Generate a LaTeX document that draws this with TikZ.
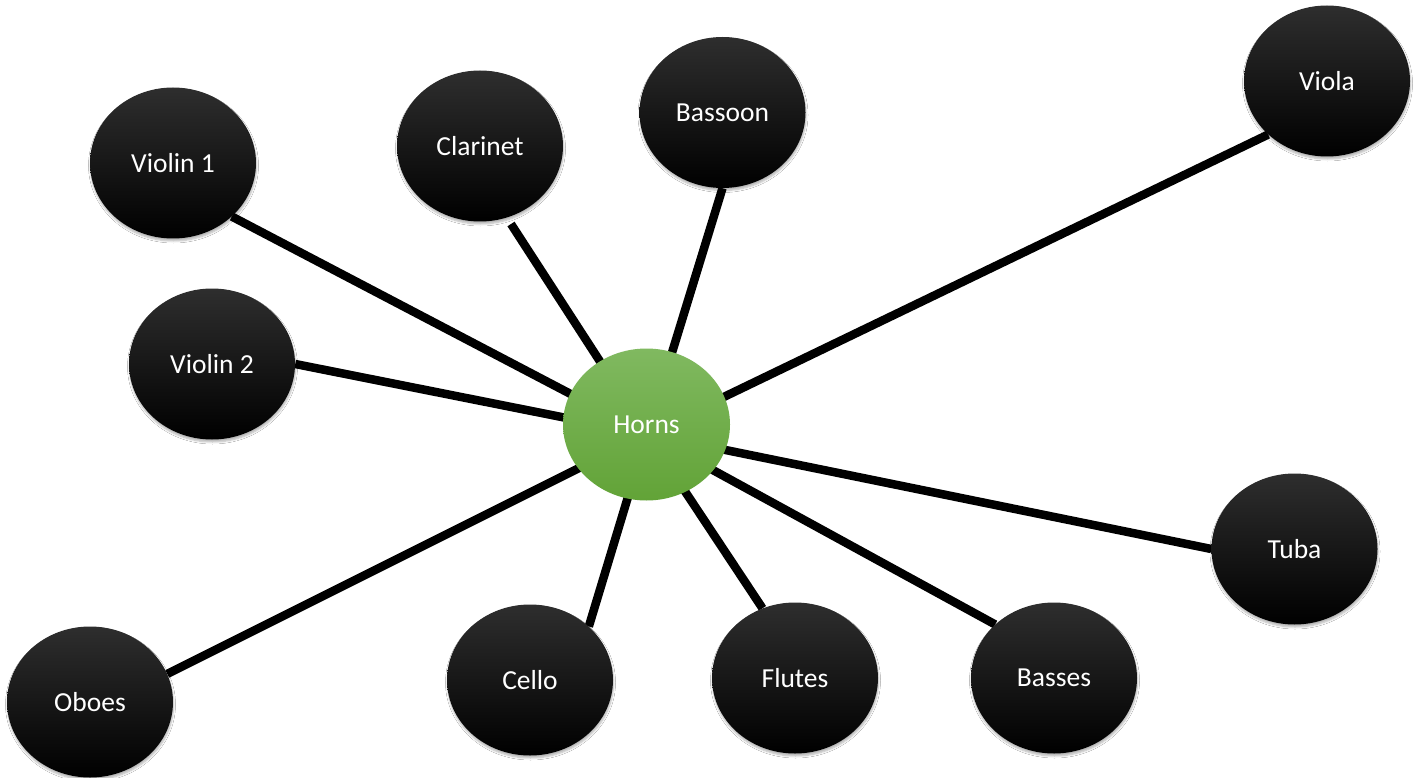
\documentclass[tikz,border=0pt]{standalone}
\usepackage{fontspec}
\setmainfont{Carlito}
\usetikzlibrary{shapes.geometric,backgrounds,shadows.blur}
\definecolor{hornTop}{RGB}{128,185,96}
\definecolor{hornBot}{RGB}{98,163,55}
\definecolor{nodeTop}{RGB}{46,46,46}
\tikzset{
  inst/.style={ellipse, minimum width=166pt, minimum height=151pt, inner sep=0pt,
    top color=nodeTop, middle color=black, bottom color=black, draw=none,
    text=white, font=\fontsize{27.5}{31}\selectfont,
    blur shadow={shadow xshift=0.5pt, shadow yshift=-2.5pt, shadow blur radius=2pt, shadow opacity=30, shadow blur steps=5}},
  hornbox/.style={ellipse, minimum width=167pt, minimum height=152pt, inner sep=0pt,
    top color=hornTop, bottom color=hornBot, draw=none,
    text=white, font=\fontsize{27.5}{31}\selectfont},
  link/.style={line width=8.5pt, draw=black}
}
\begin{document}
\begin{tikzpicture}[x=1pt,y=-1pt]
\useasboundingbox (0,0) rectangle (1419,778);
\node[inst] (v1) at (173,163) {Violin 1};
\node[inst] (cl) at (480,146) {Clarinet};
\node[inst] (bs) at (722.5,112.5) {Bassoon};
\node[inst] (va) at (1327,81) {Viola};
\node[inst] (v2) at (212,364) {Violin 2};
\node[inst] (tu) at (1294.5,549) {Tuba};
\node[inst] (ob) at (90,702) {Oboes};
\node[inst] (ce) at (530,680) {Cello};
\node[inst] (fl) at (795,678) {Flutes};
\node[inst] (ba) at (1054,678) {Basses};
\coordinate (hub) at (647,434);
\coordinate (clend) at (511,224);
\begin{scope}[on background layer]
\fill[white] (0,0) rectangle (1419,778);
\draw[link] (hub) -- (v1.south east);
\draw[link] (hub) -- (v2.east);
\draw[link] (hub) -- (clend);
\draw[link] (hub) -- (bs.south);
\draw[link] (hub) -- (va.south west);
\draw[link] (hub) -- (tu.west);
\draw[link] (hub) -- (ba.north west);
\draw[link] (hub) -- (fl.115);
\draw[link] (hub) -- (ce.north east);
\draw[link] (hub) -- (ob.20);
\end{scope}
\node[hornbox] (ho) at (646.5,424.5) {Horns};
\end{tikzpicture}
\end{document}
